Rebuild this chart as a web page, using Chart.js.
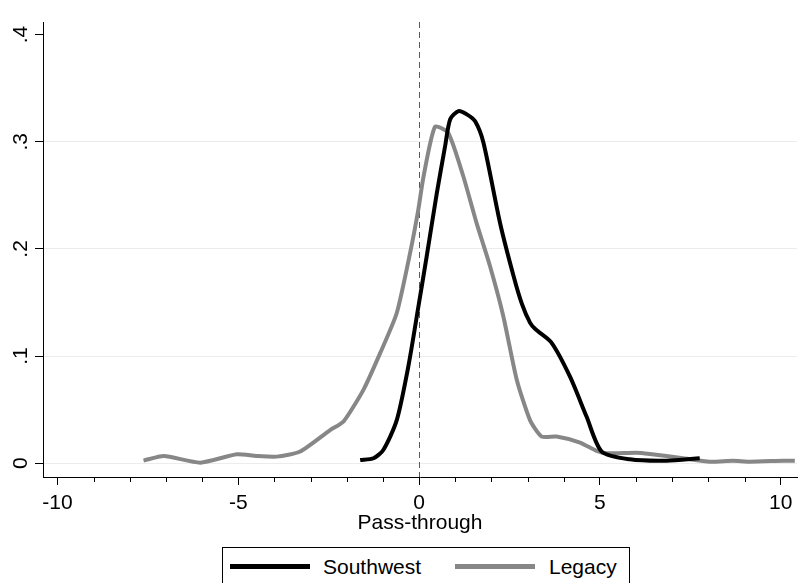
<!DOCTYPE html>
<html>
<head>
<meta charset="utf-8">
<script src="https://cdn.jsdelivr.net/npm/chart.js@4"></script>
<style>
    body { margin: 0; background: #fff; }
    #wrap { position: relative; width: 802px; height: 583px; overflow: hidden; }
    #legenda {
        position: absolute; left: 222px; top: 547px; width: 406px; height: 60px;
        border: 1px solid #000; background: #fff;
        font-family: "Liberation Sans", Arial, sans-serif; font-size: 21px; color: #000;
    }
    #legenda .linea { position: absolute; top: 16px; width: 80px; height: 5px; }
    #legenda .testo { position: absolute; top: 7px; line-height: 24px; }
</style>
</head>
<body>
<div id="wrap">
    <canvas id="grafico"></canvas>
    <div id="legenda">
        <div class="linea" style="left:7px;background:#000"></div>
        <div class="testo" style="left:100px">Southwest</div>
        <div class="linea" style="left:232px;background:#878787"></div>
        <div class="testo" style="left:326px">Legacy</div>
    </div>
</div>
<script>
// Southwest (nero)
const swX = [-1.63, -1.26, -0.99, -0.62, -0.30, -0.02, 0.21, 0.49, 0.72, 0.86, 1.09, 1.32, 1.55, 1.78, 2.24, 2.61, 2.84, 3.07, 3.22, 3.65, 4.17, 4.63, 5.05, 5.83, 6.84, 7.76];
const swY = [0.003, 0.0047, 0.0124, 0.040, 0.090, 0.146, 0.193, 0.252, 0.296, 0.321, 0.3286, 0.3255, 0.319, 0.299, 0.224, 0.175, 0.149, 0.131, 0.125, 0.113, 0.081, 0.0436, 0.0109, 0.0037, 0.0024, 0.0047];

// Legacy (grigio)
const lgX = [-7.62, -7.06, -6.05, -5.04, -4.5, -3.94, -3.29, -2.46, -2.09, -1.54, -1.08, -0.62, -0.25, -0.02, 0.12, 0.44, 0.81, 1.22, 1.59, 1.96, 2.33, 2.70, 3.07, 3.39, 3.80, 4.45, 4.91, 5.19, 6.01, 6.38, 7.30, 8.04, 8.68, 9.14, 10.06, 10.39];
const lgY = [0.0025, 0.0068, 0.0006, 0.0084, 0.0068, 0.0062, 0.011, 0.031, 0.039, 0.0685, 0.1025, 0.140, 0.196, 0.237, 0.267, 0.314, 0.308, 0.268, 0.224, 0.184, 0.137, 0.078, 0.040, 0.0249, 0.0249, 0.0193, 0.0115, 0.0093, 0.0099, 0.0087, 0.0047, 0.0015, 0.0024, 0.0015, 0.0024, 0.0024];

const yTicks = [0, 0.1, 0.2, 0.3, 0.4];
const xLabelTicks = [-10, -5, 0, 5, 10];
const lineaRiferimento = 0;

const FONT = "Liberation Sans";

function punti(xs, ys) {
    return xs.map(function (x, i) { return {x: x, y: ys[i]}; });
}

// linea tratteggiata su x = 0, tacche minori e etichette y ruotate
const extra = {
    id: "extra",
    beforeDatasetsDraw(chart) {
        const ctx = chart.ctx;
        const area = chart.chartArea;
        const px = Math.round(chart.scales.x.getPixelForValue(lineaRiferimento)) + 0.5;
        ctx.save();
        ctx.strokeStyle = "#5a5a5a";
        ctx.lineWidth = 1;
        ctx.setLineDash([6, 4]);
        ctx.beginPath();
        ctx.moveTo(px, area.top);
        ctx.lineTo(px, area.bottom);
        ctx.stroke();
        ctx.restore();
    },
    afterDraw(chart) {
        const ctx = chart.ctx;
        const xs = chart.scales.x;
        const ys = chart.scales.y;
        ctx.save();
        ctx.strokeStyle = "#000";
        ctx.lineWidth = 1;
        xs.ticks.forEach(function (t) {
            if (t.value % 5 !== 0) {
                const p = Math.round(xs.getPixelForValue(t.value)) + 0.5;
                ctx.beginPath();
                ctx.moveTo(p, xs.top);
                ctx.lineTo(p, xs.top + 5);
                ctx.stroke();
            }
        });
        ctx.fillStyle = "#000";
        ctx.font = "21px '" + FONT + "'";
        ctx.textAlign = "center";
        ctx.textBaseline = "alphabetic";
        yTicks.forEach(function (v) {
            const p = ys.getPixelForValue(v);
            ctx.save();
            ctx.translate(27, p);
            ctx.rotate(-Math.PI / 2);
            ctx.fillText(v === 0 ? "0" : v.toFixed(1).replace(/^0/, ""), 0, 0);
            ctx.restore();
        });
        ctx.restore();
    }
};

const chart = new Chart(document.getElementById("grafico"), {
    type: "line",
    data: {
        datasets: [
            {
                label: "Southwest",
                data: punti(swX, swY),
                borderColor: "#000",
                borderWidth: 4,
                pointRadius: 0,
                tension: 0.25,
                fill: false
            },
            {
                label: "Legacy",
                data: punti(lgX, lgY),
                borderColor: "#878787",
                borderWidth: 4,
                pointRadius: 0,
                tension: 0.2,
                fill: false
            }
        ]
    },
    options: {
        responsive: true,
        maintainAspectRatio: false,
        animation: false,
        layout: { padding: { top: 22, right: 5, bottom: 38, left: 0 } },
        plugins: { legend: { display: false }, tooltip: { enabled: false } },
        scales: {
            x: {
                type: "linear",
                min: -10.4,
                max: 10.45,
                afterFit: function (s) { s.height = 68; },
                border: { color: "#000", width: 1 },
                grid: {
                    drawOnChartArea: false,
                    tickLength: 8,
                    tickColor: function (c) { return c.tick && c.tick.value % 5 === 0 ? "#000" : "rgba(0,0,0,0)"; }
                },
                ticks: {
                    stepSize: 1,
                    includeBounds: false,
                    autoSkip: false,
                    maxRotation: 0,
                    padding: 6,
                    color: "#000",
                    font: { family: FONT, size: 21 },
                    callback: function (v) { return xLabelTicks.indexOf(v) >= 0 ? String(v) : ""; }
                },
                title: {
                    display: true,
                    text: "Pass-through",
                    color: "#000",
                    font: { family: FONT, size: 21 },
                    padding: { top: 0, bottom: 9 }
                }
            },
            y: {
                type: "linear",
                min: -0.0128,
                max: 0.4117,
                afterFit: function (s) { s.width = 43; },
                border: { color: "#000", width: 1 },
                grid: {
                    color: function (c) { return c.tick && c.tick.value === 0.4 ? "rgba(0,0,0,0)" : "#ececec"; },
                    tickLength: 8,
                    tickColor: "#000"
                },
                ticks: {
                    stepSize: 0.1,
                    includeBounds: false,
                    display: false
                }
            }
        }
    },
    plugins: [extra]
});
</script>
</body>
</html>
